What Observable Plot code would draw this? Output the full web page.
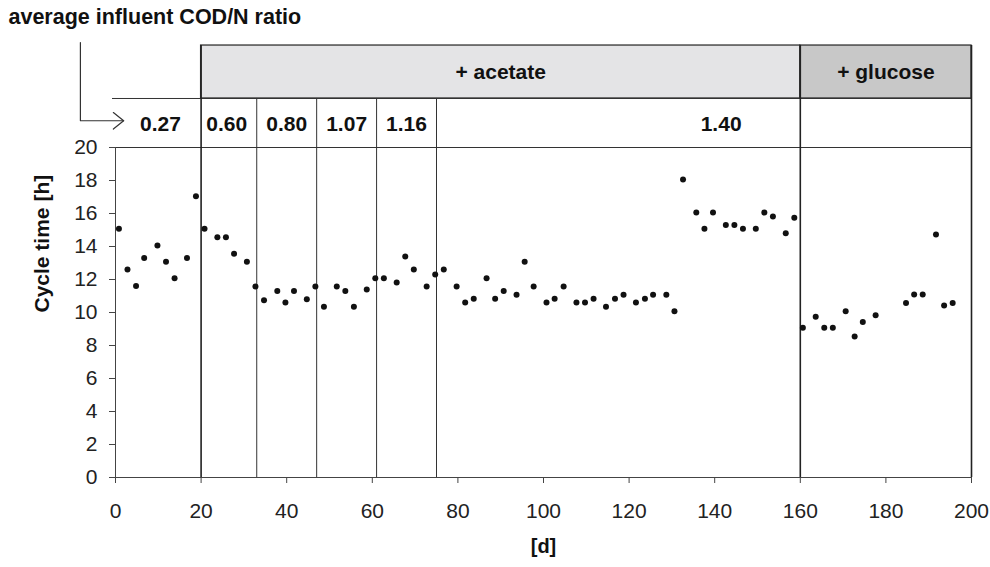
<!DOCTYPE html>
<html>
<head>
<meta charset="utf-8">
<script src="https://cdn.jsdelivr.net/npm/d3@7"></script>
<script src="https://cdn.jsdelivr.net/npm/@observablehq/plot@0.6"></script>
<style>
  html, body { margin: 0; padding: 0; background: #fff; }
  #chart svg { display: block; }
</style>
</head>
<body>
<div id="chart"></div>
<script>
// ---- data ----
const days = [0.8, 2.8, 4.8, 6.7, 9.8, 11.8, 13.8, 16.7, 18.8,
  20.8, 23.8, 25.8, 27.7, 30.7, 32.7, 34.7, 37.8, 39.7, 41.7, 44.7, 46.7,
  48.7, 51.7, 53.7, 55.7, 58.7, 60.7, 62.7, 65.7, 67.7, 69.7, 72.7, 74.7,
  76.7, 79.7, 81.7, 83.7, 86.7, 88.7, 90.7, 93.7, 95.6, 97.7, 100.7, 102.6, 104.7, 107.7, 109.7, 111.7, 114.6, 116.7, 118.7, 121.6, 123.7, 125.6, 128.7, 130.6,
  132.6, 135.7, 137.6, 139.6, 142.6, 144.6, 146.6, 149.6, 151.6, 153.6, 156.6, 158.6,
  160.6, 163.6, 165.6, 167.6, 170.6, 172.7, 174.6, 177.6, 184.7, 186.6, 188.6, 191.7, 193.6, 195.6];
const cycleTime = [15.07, 12.6, 11.6, 13.3, 14.06, 13.07, 12.08, 13.3, 17.05,
  15.07, 14.56, 14.56, 13.56, 13.07, 11.58, 10.75, 11.3, 10.6, 11.3, 10.8, 11.58,
  10.35, 11.58, 11.3, 10.35, 11.4, 12.08, 12.08, 11.82, 13.4, 12.6, 11.58, 12.3,
  12.6, 11.58, 10.6, 10.83, 12.08, 10.83, 11.3, 11.07, 13.07, 11.58, 10.6, 10.83, 11.58, 10.6, 10.6, 10.83, 10.35, 10.83, 11.07, 10.6, 10.83, 11.07, 11.07, 10.08,
  18.06, 16.06, 15.07, 16.06, 15.31, 15.31, 15.07, 15.07, 16.06, 15.82, 14.8, 15.74,
  9.07, 9.74, 9.07, 9.07, 10.08, 8.55, 9.42, 9.84, 10.58, 11.09, 11.09, 14.73, 10.42, 10.58];

const ratioBounds = [0, 20, 33, 47, 61, 75, 160];
const ratioLabels = ["0.27", "0.60", "0.80", "1.07", "1.16", "1.40"];
const ratioLabelDay = [10.5, 26, 40, 54, 68, 141.5];

const bandNames = ["+ acetate", "+ glucose"];
const bandStart = [20, 160];
const bandEnd = [160, 200];
const bandFill = ["#e4e4e6", "#c8c8c8"];

const xTicks = [0, 20, 40, 60, 80, 100, 120, 140, 160, 180, 200];
const yTicks = [0, 2, 4, 6, 8, 10, 12, 14, 16, 18, 20];

const titleText = "average influent COD/N ratio";
const yLabel = "Cycle time [h]";
const xLabel = "[d]";

// ---- build ----
const points = days.map((d, i) => ({day: d, ct: cycleTime[i]}));
const bands = bandNames.map((n, i) => ({name: n, x1: bandStart[i], x2: bandEnd[i], fill: bandFill[i]}));
const ratios = ratioLabels.map((l, i) => ({label: l, x: ratioLabelDay[i]}));
const innerBounds = ratioBounds.slice(2, 6);

// header layout (in y units above the plotting range)
const rowTop = 22.97;
const headTop = 26.18;
const line = "#333";
const fs = 21;

const chart = Plot.plot({
  width: 990,
  height: 567,
  marginLeft: 115,
  marginRight: 19,
  marginTop: 147,
  marginBottom: 90,
  style: {fontFamily: "'Liberation Sans', Arial, sans-serif", fontSize: "21px", color: "#111", background: "#fff", overflow: "visible"},
  x: {domain: [0, 200]},
  y: {domain: [0, 20]},
  marks: [
    // header bands
    Plot.rect(bands, {x1: "x1", x2: "x2", y1: rowTop, y2: headTop, fill: "fill", stroke: line, strokeWidth: 1.3}),
    Plot.text(bands, {x: d => (d.x1 + d.x2) / 2, y: (rowTop + headTop) / 2, text: "name", fontWeight: "bold", fontSize: fs, fill: "#111"}),
    // header row line and frame lines
    Plot.ruleY([rowTop], {x1: -0.7, x2: 200, stroke: line, strokeWidth: 1}),
    Plot.ruleY([20], {x1: 0, x2: 200, stroke: line, strokeWidth: 1}),
    Plot.ruleX(innerBounds, {y1: 0, y2: rowTop, stroke: line, strokeWidth: 1}),
    Plot.ruleX([ratioBounds[1], bandEnd[0]], {y1: 0, y2: headTop, stroke: "#222", strokeWidth: 1.6}),
    Plot.ruleX([200], {y1: 0, y2: headTop, stroke: "#222", strokeWidth: 1.6}),
    // ratio labels
    Plot.text(ratios, {x: "x", y: (20 + rowTop) / 2 - 0.05, text: "label", fontWeight: "bold", fontSize: fs, fill: "#111"}),
    // title and arrow
    Plot.text([titleText], {x: -25, y: 27.88, text: d => d, textAnchor: "start", fontWeight: "bold", fontSize: 21.5, fill: "#111"}),
    Plot.line([{x: -8.2, y: 26.36}, {x: -8.2, y: 21.62}, {x: 1.9, y: 21.62}], {x: "x", y: "y", stroke: line, strokeWidth: 1.2}),
    Plot.line([{x: -0.5, y: 22.12}, {x: 1.9, y: 21.62}, {x: -0.5, y: 21.12}], {x: "x", y: "y", stroke: line, strokeWidth: 1.2}),
    // axes
    Plot.ruleX([0], {y1: 0, y2: 20, stroke: "#444", strokeWidth: 1}),
    Plot.ruleY([0], {x1: 0, x2: 200, stroke: "#444", strokeWidth: 1}),
    Plot.axisX({ticks: xTicks, tickSize: 6, tickPadding: 20, label: null, fontSize: 21, stroke: "#444", fill: "#222"}),
    Plot.axisY({ticks: yTicks, tickSize: 6, tickPadding: 12, label: null, fontSize: 21, stroke: "#444", fill: "#222"}),
    Plot.text([yLabel], {frameAnchor: "left", rotate: -90, dx: -73, text: d => d, fontWeight: "bold", fontSize: fs, fill: "#111"}),
    Plot.text([xLabel], {frameAnchor: "bottom", dy: 75, text: d => d, fontWeight: "bold", fontSize: 20, fill: "#111"}),
    // data
    Plot.dot(points, {x: "day", y: "ct", r: 3, fill: "#111", stroke: "none"})
  ]
});
document.getElementById("chart").appendChild(chart);
</script>
</body>
</html>
